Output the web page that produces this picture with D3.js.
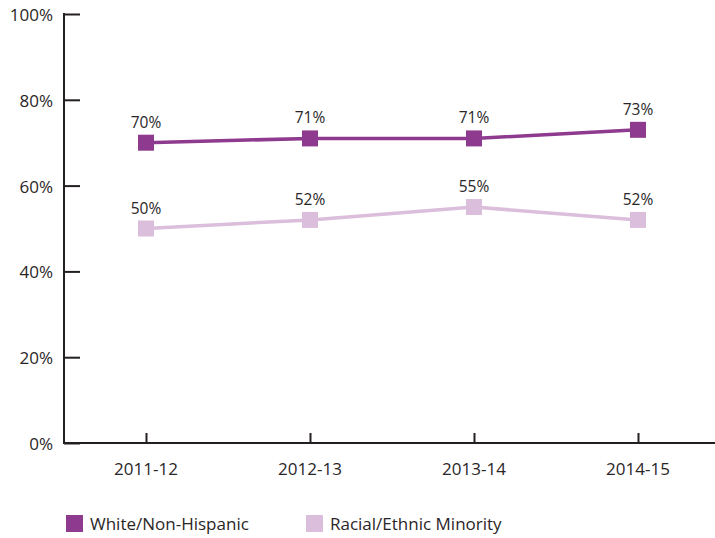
<!DOCTYPE html>
<html><head><meta charset="utf-8">
<script src="https://cdn.jsdelivr.net/npm/d3@7"></script>
<style>body{margin:0;background:#fff}svg{display:block}text{font-family:"Open Sans","DejaVu Sans",sans-serif;fill:#2a2627}</style>
</head><body>
<svg id="c" width="715" height="538"></svg>
<script>
const categories = ["2011-12","2012-13","2013-14","2014-15"];
const whiteValues = [70,71,71,73];
const minorityValues = [50,52,55,52];
const yTicks = [0,20,40,60,80,100];
const seriesNames = ["White/Non-Hispanic","Racial/Ethnic Minority"];
const seriesColors = ["#8e3a8e","#dbbedb"];

const svg = d3.select("#c");
const x = d3.scalePoint().domain(categories).range([64,720]).padding(0.5);
const y = d3.scaleLinear().domain([0,100]).range([443,14]);

// y axis
const yAxis = svg.append("g").attr("transform","translate(64,0)")
  .call(d3.axisRight(y).tickValues(yTicks).tickSize(16).tickFormat(""));
yAxis.select(".domain").remove();
yAxis.selectAll("line").attr("stroke","#231f20").attr("stroke-width",2);
svg.append("line").attr("x1",64).attr("x2",64).attr("y1",y(100)-1).attr("y2",y(0)+1)
  .attr("stroke","#231f20").attr("stroke-width",2);
svg.selectAll(".ylab").data(yTicks).enter().append("text")
  .attr("x",53).attr("y",d=>y(d)+7).attr("text-anchor","end")
  .attr("font-size",17).text(d=>d+"%");

// x axis
svg.append("line").attr("x1",63).attr("x2",720).attr("y1",y(0)).attr("y2",y(0))
  .attr("stroke","#231f20").attr("stroke-width",2);
const xAxis = svg.append("g").attr("transform",`translate(0,${y(0)})`)
  .call(d3.axisTop(x).tickSize(10).tickFormat(""));
xAxis.select(".domain").remove();
xAxis.selectAll("line").attr("stroke","#231f20").attr("stroke-width",2);
svg.selectAll(".xlab").data(categories).enter().append("text")
  .attr("x",d=>x(d)).attr("y",475).attr("text-anchor","middle")
  .attr("font-size",17).text(d=>d);

const series = [whiteValues, minorityValues];
series.forEach((vals,i)=>{
  const pts = categories.map((c,j)=>({c,v:vals[j]}));
  svg.append("path").datum(pts)
    .attr("d",d3.line().x(d=>x(d.c)).y(d=>y(d.v)))
    .attr("fill","none").attr("stroke",seriesColors[i]).attr("stroke-width",3.5);
  svg.selectAll(".m"+i).data(pts).enter().append("rect")
    .attr("x",d=>x(d.c)-8).attr("y",d=>y(d.v)-8).attr("width",16).attr("height",16)
    .attr("fill",seriesColors[i]);
  svg.selectAll(".l"+i).data(pts).enter().append("text")
    .attr("x",d=>x(d.c)).attr("y",d=>y(d.v)-15).attr("text-anchor","middle")
    .attr("font-size",15.5).text(d=>d.v+"%");
});

// legend
const legX = [66,306];
seriesNames.forEach((n,i)=>{
  svg.append("rect").attr("x",legX[i]).attr("y",515).attr("width",17).attr("height",17).attr("fill",seriesColors[i]);
  svg.append("text").attr("x",legX[i]+24).attr("y",530).attr("font-size",17).text(n);
});
</script>
</body></html>
